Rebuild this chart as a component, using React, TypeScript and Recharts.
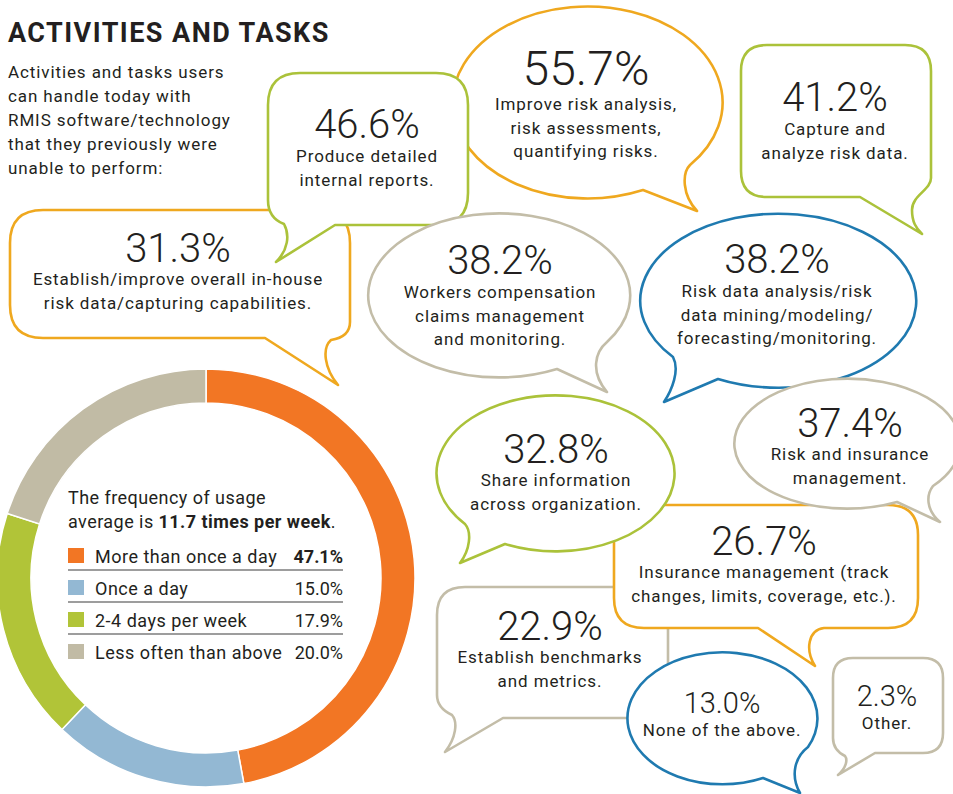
import React from 'react';
import { PieChart, Pie, Cell } from 'recharts';

// ---------- data ----------
const frequencyCategories = ['More than once a day', 'Once a day', '2-4 days per week', 'Less often than above'];
const frequencyShares = [47.1, 15.0, 17.9, 20.0];
const averageUsage = '11.7 times per week';

const activityShares = [55.7, 46.6, 41.2, 38.2, 38.2, 37.4, 32.8, 31.3, 26.7, 22.9, 13.0, 2.3];
const activityDescriptions = [
  ['Improve risk analysis,', 'risk assessments,', 'quantifying risks.'],
  ['Produce detailed', 'internal reports.'],
  ['Capture and', 'analyze risk data.'],
  ['Workers compensation', 'claims management', 'and monitoring.'],
  ['Risk data analysis/risk', 'data mining/modeling/', 'forecasting/monitoring.'],
  ['Risk and insurance', 'management.'],
  ['Share information', 'across organization.'],
  ['Establish/improve overall in-house', 'risk data/capturing capabilities.'],
  ['Insurance management (track', 'changes, limits, coverage, etc.).'],
  ['Establish benchmarks', 'and metrics.'],
  ['None of the above.'],
  ['Other.'],
];

const introLines = [
  'Activities and tasks users',
  'can handle today with',
  'RMIS software/technology',
  'that they previously were',
  'unable to perform:',
];

// ---------- styles / layout ----------
const TEXT = '#231f20';
const FONT = 'Roboto, "Noto Sans", sans-serif';
const C_ORANGE = '#efa81f';
const C_GREEN = '#abc23a';
const C_GREY = '#c3bda8';
const C_BLUE = '#1f7ab0';
const pieColors = ['#f27624', '#93b8d3', '#b1c438', '#c1bba5'];
const BODY_SPACING = 0.9;

type Bubble = {
  idx: number;
  color: string;
  path: string;
  x: number;
  pctY: number;
  pctSize: number;
  lineY: number;
  gap?: number;
};

// listed in drawing order (back to front)
const bubbles: Bubble[] = [
  { idx: 0, color: C_ORANGE, x: 586, pctY: 85, pctSize: 48, lineY: 110,
    path: 'M 643 190 A 135 96 0 1 1 690 165 C 682 173 682 195 697 211 L 643 190 Z' },
  { idx: 7, color: C_ORANGE, x: 178, pctY: 262, pctSize: 40, lineY: 285,
    path: 'M 43 210 H 317 Q 350 210 350 243 V 322 Q 350 337 331 340 C 322 348 324 368 338 385 L 265 338 H 43 Q 10 338 10 305 V 243 Q 10 210 43 210 Z' },
  { idx: 1, color: C_GREEN, x: 367, pctY: 138, pctSize: 40, lineY: 162,
    path: 'M 300 73 H 436 Q 468 73 468 105 V 193 Q 468 225 436 225 H 335 L 276 262 C 288 250 290 235 284 224 Q 268 218 268 200 V 105 Q 268 73 300 73 Z' },
  { idx: 2, color: C_GREEN, x: 835, pctY: 111, pctSize: 40, lineY: 135,
    path: 'M 767 45 H 905 Q 931 45 931 71 V 178 C 931 190 912 195 912 210 C 912 222 916 228 922 234 L 860 197 H 767 Q 741 197 741 171 V 71 Q 741 45 767 45 Z' },
  { idx: 3, color: C_GREY, x: 500, pctY: 274, pctSize: 40, lineY: 298,
    path: 'M 557 369 A 131 82 0 1 1 607 342 C 595 352 590 372 607 392 L 557 369 Z' },
  { idx: 4, color: C_BLUE, x: 777, pctY: 273, pctSize: 40, lineY: 297,
    path: 'M 718 379 A 138 87 0 1 0 673 357 C 680 370 672 390 664 402 L 718 379 Z' },
  { idx: 9, color: C_GREY, x: 550, pctY: 640, pctSize: 40, lineY: 663,
    path: 'M 465 587 H 640 Q 668 587 668 615 V 690 Q 668 718 640 718 H 503 L 445 752 C 456 738 458 722 452 715 Q 437 708 437 695 V 615 Q 437 587 465 587 Z' },
  { idx: 8, color: C_ORANGE, x: 764, pctY: 555, pctSize: 40, lineY: 578,
    path: 'M 644 505 H 888 Q 918 505 918 535 V 598 Q 918 628 888 628 H 824 C 808 630 805 650 815 666 L 758 628 H 644 Q 614 628 614 598 V 535 Q 614 505 644 505 Z' },
  { idx: 6, color: C_GREEN, x: 556, pctY: 463, pctSize: 40, lineY: 486,
    path: 'M 505 544 A 119 78 0 1 0 465 524 C 472 532 470 550 460 563 L 505 544 Z' },
  { idx: 5, color: C_GREY, x: 850, pctY: 437, pctSize: 40, lineY: 460,
    path: 'M 897 502 A 113 65 0 1 1 933 486 C 926 495 926 510 940 522 L 897 502 Z' },
  { idx: 10, color: C_BLUE, x: 722, pctY: 713, pctSize: 29, lineY: 736,
    path: 'M 763 778 A 95 66 0 1 1 808 747 C 795 757 790 775 800 793 L 763 778 Z' },
  { idx: 11, color: C_GREY, x: 887, pctY: 706, pctSize: 29, lineY: 729,
    path: 'M 853 658 H 923 Q 943 658 943 678 V 733 Q 943 753 923 753 H 875 L 838 775 C 846 768 848 760 845 756 Q 833 750 833 738 V 678 Q 833 658 853 658 Z' },
];

const pieData = frequencyCategories.map((name, i) => ({ name, value: frequencyShares[i] }));

const PIE_CX = 206;
const PIE_CY = 578;
const PIE_BOX = 440;

export default function App() {
  return (
    <div
      style={{
        position: 'absolute',
        left: 0,
        top: 0,
        width: 953,
        height: 794,
        background: '#fff',
        overflow: 'hidden',
        fontFamily: FONT,
      }}
    >
      {/* bubbles + headings */}
      <svg width={953} height={794} style={{ position: 'absolute', left: 0, top: 0 }}>
        <text x={8} y={42} fontSize={27} fontWeight={700} fill={TEXT} fontFamily={FONT} letterSpacing={1.45}>
          ACTIVITIES AND TASKS
        </text>
        {introLines.map((l, i) => (
          <text key={i} x={8} y={78 + i * 24} fontSize={17} fill={TEXT} fontFamily={FONT} letterSpacing={BODY_SPACING}>
            {l}
          </text>
        ))}
        {bubbles.map((b) => (
          <g key={b.idx}>
            <path d={b.path} fill="#fff" stroke={b.color} strokeWidth={2.6} strokeLinejoin="round" />
            <text
              x={b.x}
              y={b.pctY}
              fontSize={b.pctSize}
              fontWeight={300}
              textAnchor="middle"
              fill={TEXT}
              fontFamily={FONT}
            >
              {activityShares[b.idx].toFixed(1)}%
            </text>
            {activityDescriptions[b.idx].map((l, j) => (
              <text
                key={j}
                x={b.x}
                y={b.lineY + j * (b.gap ?? 23.5)}
                fontSize={17}
                textAnchor="middle"
                fill={TEXT}
                fontFamily={FONT}
                letterSpacing={BODY_SPACING}
              >
                {l}
              </text>
            ))}
          </g>
        ))}
      </svg>

      {/* donut */}
      <div style={{ position: 'absolute', left: PIE_CX - PIE_BOX / 2, top: PIE_CY - PIE_BOX / 2 }}>
        <PieChart width={PIE_BOX} height={PIE_BOX} margin={{ top: 0, right: 0, bottom: 0, left: 0 }}>
          <Pie
            data={pieData}
            dataKey="value"
            cx={PIE_BOX / 2}
            cy={PIE_BOX / 2}
            innerRadius={175}
            outerRadius={209}
            startAngle={90}
            endAngle={-270}
            stroke="#fff"
            strokeWidth={1.5}
            isAnimationActive={false}
          >
            {pieData.map((d, i) => (
              <Cell key={d.name} fill={pieColors[i]} />
            ))}
          </Pie>
        </PieChart>
      </div>

      {/* legend inside donut */}
      <svg width={953} height={794} style={{ position: 'absolute', left: 0, top: 0, pointerEvents: 'none' }}>
        <text x={68} y={504} fontSize={18} fill={TEXT} fontFamily={FONT} letterSpacing={0.45}>
          The frequency of usage
        </text>
        <text x={68} y={528} fontSize={18} fill={TEXT} fontFamily={FONT} letterSpacing={0.45}>
          average is <tspan fontWeight={700}>{averageUsage}</tspan>.
        </text>
        {frequencyCategories.map((c, i) => {
          const base = 563 + i * 32;
          return (
            <g key={c}>
              <rect x={68} y={base - 15} width={16} height={15} fill={pieColors[i]} />
              <text x={95} y={base} fontSize={18} fill={TEXT} fontFamily={FONT} letterSpacing={0.5}>
                {c}
              </text>
              <text
                x={343}
                y={base}
                fontSize={18}
                textAnchor="end"
                fontWeight={i === 0 ? 700 : 400}
                fill={TEXT}
                fontFamily={FONT}
              >
                {frequencyShares[i].toFixed(1)}%
              </text>
              {i < frequencyCategories.length - 1 && (
                <line x1={68} x2={343} y1={base + 7} y2={base + 7} stroke="#7d7d7d" strokeWidth={1.5} />
              )}
            </g>
          );
        })}
      </svg>
    </div>
  );
}
